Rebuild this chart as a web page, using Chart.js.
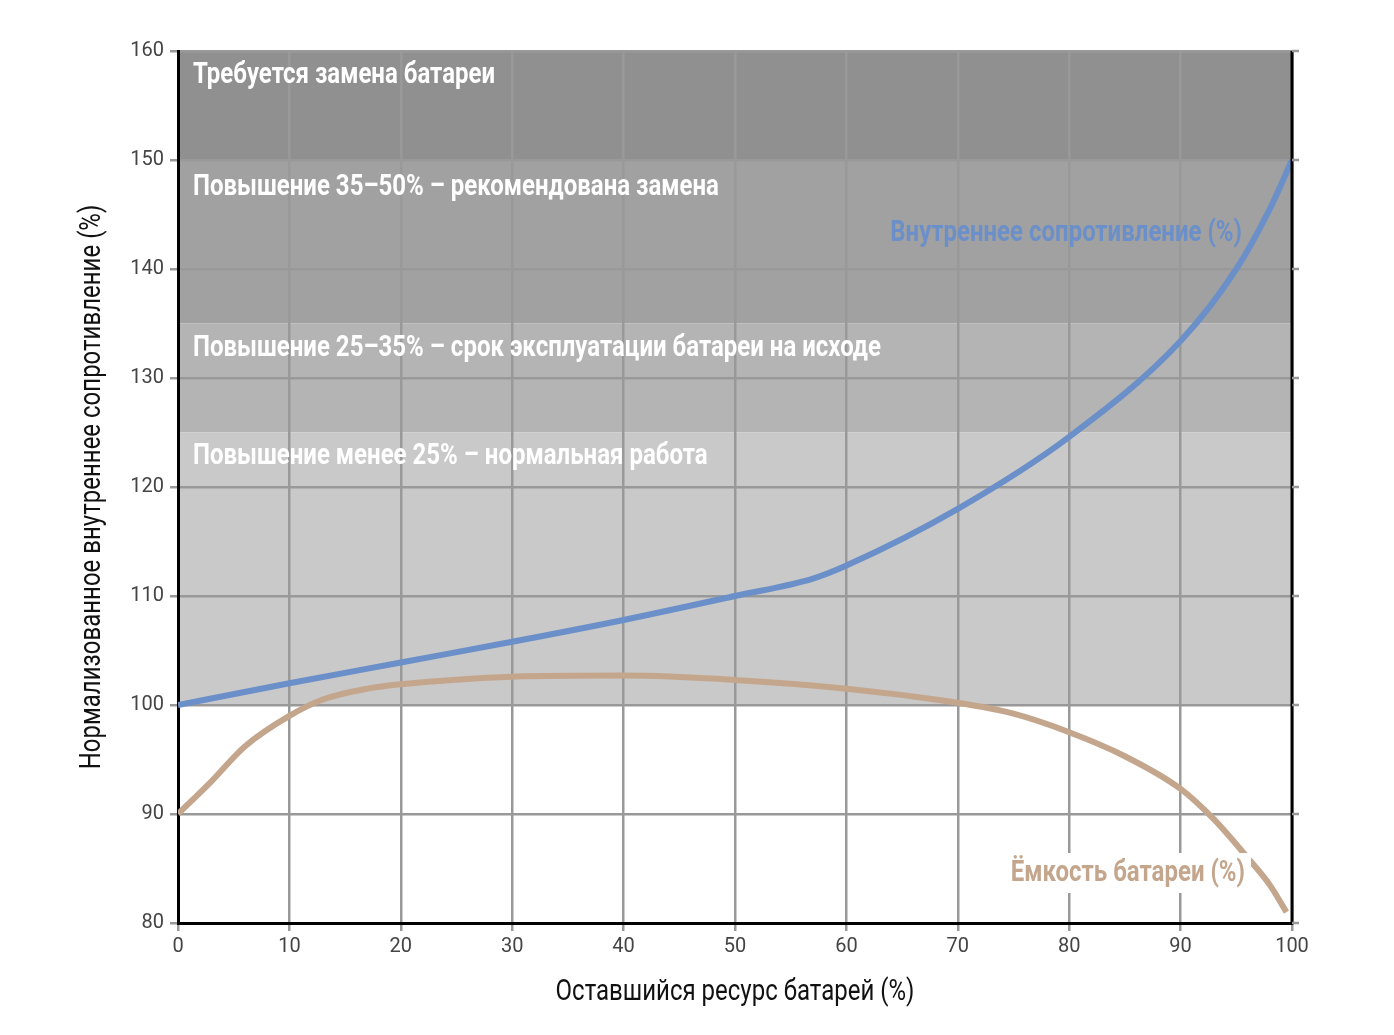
<!DOCTYPE html><html><head><meta charset="utf-8">
<script src="https://cdn.jsdelivr.net/npm/chart.js@4"></script>
<style>html,body{margin:0;background:#fff}#w{width:1394px;height:1035px}</style></head><body>
<div id="w"><canvas id="c"></canvas></div>
<script>
const resistX=[0,10,20,30,40,50,57,60,70,80,90,95,98,100];
const resistY=[100,102,103.9,105.8,107.8,110,111.6,112.8,118,124.6,133.4,140,145.5,150];
const capX=[0,3,6,10,13,17,20,30,40,50,60,70,75,80,85,90,93,96,98,99.5];
const capY=[90,93,96.2,99,100.5,101.5,101.9,102.6,102.7,102.3,101.5,100.2,99.2,97.5,95.3,92.3,89.5,86,83.5,81];
const bands=[[150,160,'#909090','Требуется замена батареи'],[135,150,'#a1a1a1','Повышение 35–50% – рекомендована замена'],[125,135,'#b4b4b4','Повышение 25–35% – срок эксплуатации батареи на исходе'],[100,125,'#c9c9c9','Повышение менее 25% – нормальная работа']];
const xTitle='Оставшийся ресурс батарей (%)';
const yTitle='Нормализованное внутреннее сопротивление (%)';
const blueLbl='Внутреннее сопротивление (%)', tanLbl='Ёмкость батареи (%)';
const FONT='Roboto, "Liberation Sans", sans-serif';
function cText(ctx,t,x,y,size,weight,color,align){ctx.save();ctx.font=weight+' '+size+'px '+FONT;ctx.fillStyle=color;ctx.textBaseline='middle';const w=ctx.measureText(t).width*0.8;let sx=align==='right'?x-w:align==='center'?x-w/2:x;ctx.translate(sx,y);ctx.scale(0.8,1);ctx.textAlign='left';ctx.fillText(t,0,0);ctx.restore();return w;}
const plug={id:'p',
beforeDraw(ch){const {ctx,scales:{x,y}}=ch;bands.forEach(b=>{ctx.fillStyle=b[2];ctx.fillRect(x.left,y.getPixelForValue(b[1]),x.right-x.left,y.getPixelForValue(b[0])-y.getPixelForValue(b[1]));});},
afterDraw(ch){const {ctx,scales:{x,y},chartArea:a}=ch;
ctx.save();ctx.strokeStyle='#000';ctx.lineWidth=3;ctx.beginPath();ctx.moveTo(a.right,a.top);ctx.lineTo(a.right,a.bottom);ctx.stroke();
ctx.strokeStyle='#999';ctx.lineWidth=2.5;for(let v=80;v<=160;v+=10){const py=y.getPixelForValue(v);ctx.beginPath();ctx.moveTo(a.right,py);ctx.lineTo(a.right+7,py);ctx.stroke();}ctx.restore();
const pos=[75,187,348,456];bands.forEach((b,i)=>cText(ctx,b[3],193,pos[i],30,'bold','#fff','left'));
cText(ctx,blueLbl,1242,233,30,'bold','#6b8fc9','right');
ctx.font='bold 30px '+FONT;const w=ctx.measureText(tanLbl).width*0.8;ctx.fillStyle='#fff';ctx.fillRect(1245-w-6,853,w+12,40);
cText(ctx,tanLbl,1245,873,30,'bold','#c4a68d','right');
cText(ctx,xTitle,(a.left+a.right)/2,992,30,'normal','#111','center');
ctx.save();ctx.translate(92,(a.top+a.bottom)/2);ctx.rotate(-Math.PI/2);cText(ctx,yTitle,0,0,30,'normal','#111','center');ctx.restore();
}};
new Chart(document.getElementById('c'),{type:'line',
data:{datasets:[
{data:resistX.map((v,i)=>({x:v,y:resistY[i]})),borderColor:'#6b8fc9',borderWidth:6,pointRadius:0,cubicInterpolationMode:'monotone'},
{data:capX.map((v,i)=>({x:v,y:capY[i]})),borderColor:'#c4a68d',borderWidth:6,pointRadius:0,cubicInterpolationMode:'monotone'}]},
options:{responsive:true,maintainAspectRatio:false,animation:false,events:[],
layout:{padding:{top:51,right:102,left:0,bottom:0}},
plugins:{legend:{display:false},tooltip:{enabled:false}},
scales:{
x:{type:'linear',min:0,max:100,afterFit(s){s.height=112;},ticks:{stepSize:10,color:'#444',font:{family:FONT,size:20},padding:4},grid:{color:'#999',lineWidth:2.5,tickLength:8,drawOnChartArea:true},border:{color:'#000',width:3}},
y:{min:80,max:160,afterFit(s){s.width=178;},ticks:{stepSize:10,color:'#444',font:{family:FONT,size:20},padding:6},grid:{color:'#999',lineWidth:2.5,tickLength:8},border:{color:'#000',width:3}}}},
plugins:[plug]});
</script></body></html>
